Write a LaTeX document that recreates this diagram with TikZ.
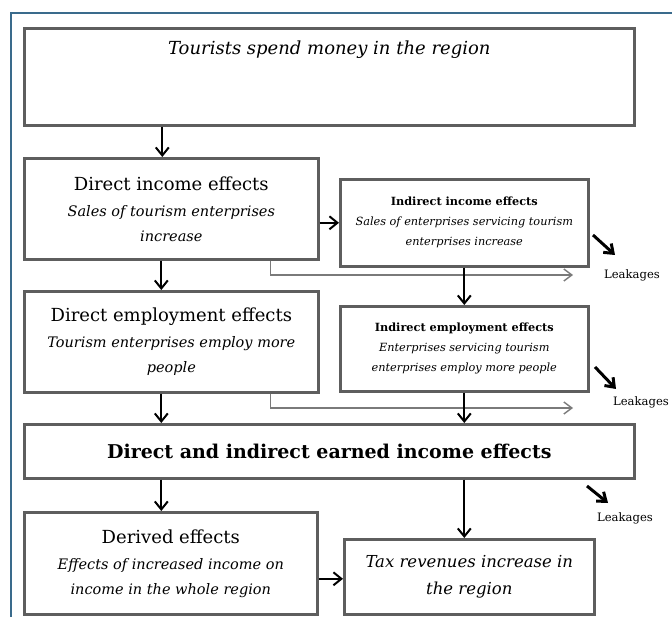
\documentclass[tikz,border=0pt]{standalone}
\usepackage{fontspec}
\setmainfont{DejaVu Serif}
\usepackage{xcolor}
\usetikzlibrary{arrows.meta, positioning}
\definecolor{framecolor}{HTML}{3A6B8C}
\definecolor{boxgray}{HTML}{5E5E5E}
\definecolor{leakgray}{HTML}{7A7A7A}
\newcommand{\effecthead}{\fontsize{18}{25}\selectfont\upshape}
\newcommand{\effectnote}{\fontsize{14.5}{25}\selectfont\itshape}
\newcommand{\sidehead}{\fontsize{11.3}{20}\selectfont\bfseries\upshape}
\newcommand{\sidenote}{\fontsize{11.3}{20}\selectfont\itshape}
\tikzset{
    flow/.style={x=1pt, y=-1pt},
    effect box/.style={draw=boxgray, line width=2.6pt, align=center,
        inner sep=0pt, anchor=north west},
    flow arrow/.style={-{Straight Barb[length=8pt, width=13pt]}, line width=2pt},
    leak arrow/.style={-{Straight Barb[length=8pt, width=12pt]}, draw=leakgray, line width=1.4pt},
    leak tick/.style={-{Straight Barb[length=8pt, width=12pt]}, line width=3pt},
    leak label/.style={font=\fontsize{11.6}{14}\selectfont},
}
\begin{document}
\begin{tikzpicture}[flow]

    \useasboundingbox (0,0) rectangle (672,617);
    \draw[framecolor, line width=1.3pt] (11,617) -- (11,13) -- (672,13);

    % Boxes
    \node[effect box, minimum width=610pt, text height=26pt, text depth=71pt,
        font=\fontsize{18}{22}\selectfont\itshape] (spend) at (23,27)
        {Tourists spend money in the region};
    \node[effect box, minimum width=294pt, minimum height=101pt, font=\effectnote] (dinc) at (23,157)
        {{\effecthead Direct income effects}\\[1pt] Sales of tourism enterprises\\ increase};
    \node[effect box, minimum width=248pt, minimum height=87pt, font=\sidenote] (iinc) at (339,178)
        {{\sidehead Indirect income effects}\\ Sales of enterprises servicing tourism\\ enterprises increase};
    \node[effect box, minimum width=294pt, minimum height=101pt, font=\effectnote] (demp) at (23,290)
        {{\effecthead Direct employment effects}\\[1pt] Tourism enterprises employ more\\ people};
    \node[effect box, minimum width=248pt, minimum height=85pt, font=\sidenote] (iemp) at (339,305)
        {{\sidehead Indirect employment effects}\\ Enterprises servicing tourism\\ enterprises employ more people};
    \node[effect box, minimum width=610pt, minimum height=54pt,
        font=\fontsize{19}{22}\selectfont\bfseries] (earned) at (23,423)
        {Direct and indirect earned income effects};
    \node[effect box, minimum width=293pt, minimum height=102pt, font=\effectnote] (derived) at (23,511)
        {{\effecthead Derived effects}\\[1pt] Effects of increased income on\\ income in the whole region};
    \node[effect box, minimum width=250pt, minimum height=75pt,
        font=\fontsize{16.5}{27}\selectfont\itshape] (tax) at (343,538)
        {Tax revenues increase in\\ the region};

    % Leakages
    \node[leak label] (leak1 label) at (632,275) {Leakages};
    \node[leak label] (leak2 label) at (641,402) {Leakages};
    \node[leak label] (leak3 label) at (625,518) {Leakages};
    \coordinate (leak1) at (573,275);
    \coordinate (leak2) at (573,408);
    \coordinate (tick1) at (593,235);
    \coordinate (tick2) at (595,367);
    \coordinate (tick3) at (587,486);

    % Arrows
    \draw[leak arrow] ([xshift=99pt]dinc.south) |- (leak1);
    \draw[leak arrow] ([xshift=99pt]demp.south) |- (leak2);
    \draw[flow arrow] ([xshift=-9pt]dinc.north |- spend.south) -- ([xshift=-9pt]dinc.north);
    \draw[flow arrow] (iinc.west -| dinc.east) -- (iinc.west);
    \draw[flow arrow] ([xshift=-10pt]dinc.south) -- ([xshift=-10pt]demp.north);
    \draw[flow arrow] (iinc.south) -- (iemp.north);
    \draw[flow arrow] ([xshift=-10pt]demp.south) -- ([xshift=-10pt]demp.south |- earned.north);
    \draw[flow arrow] (iemp.south) -- (iemp.south |- earned.north);
    \draw[flow arrow] ([xshift=-9.5pt]derived.north |- earned.south) -- ([xshift=-9.5pt]derived.north);
    \draw[flow arrow] ([xshift=-5pt]tax.north |- earned.south) -- ([xshift=-5pt]tax.north);
    \draw[flow arrow] ([yshift=-2pt]tax.west -| derived.east) -- ([yshift=-2pt]tax.west);
    \draw[leak tick] (tick1) -- ++(22,20);
    \draw[leak tick] (tick2) -- ++(21,22);
    \draw[leak tick] (tick3) -- ++(21,17);

\end{tikzpicture}
\end{document}
